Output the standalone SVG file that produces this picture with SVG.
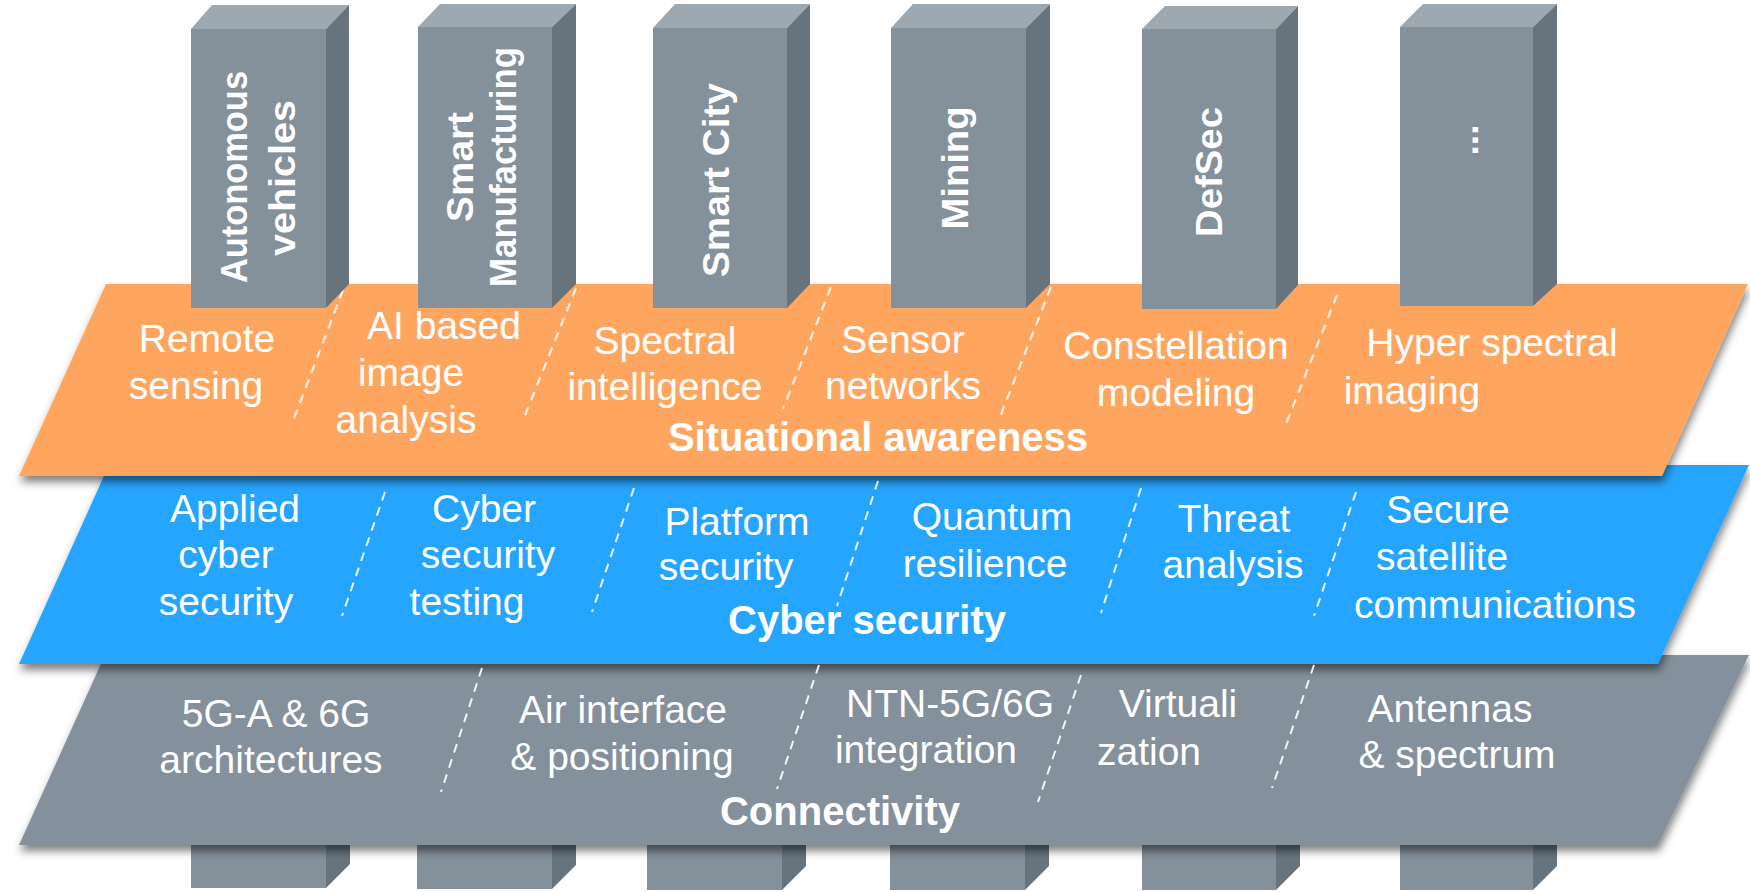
<svg xmlns="http://www.w3.org/2000/svg" width="1750" height="892" viewBox="0 0 1750 892">
<defs>
<filter id="shadow" x="-5%" y="-10%" width="110%" height="130%">
<feDropShadow dx="1" dy="6" stdDeviation="4" flood-color="#000" flood-opacity="0.5"/>
</filter>
</defs>
<style>
.front{fill:#84909A}
.side{fill:#67747E}
.top{fill:#9DA8B0}
.item{font-family:"Liberation Sans",Arial,sans-serif;font-size:39px;fill:#fff;text-anchor:middle}
.head{font-family:"Liberation Sans",Arial,sans-serif;font-size:40px;font-weight:bold;fill:#fff;text-anchor:middle}
.pl{font-family:"Liberation Sans",Arial,sans-serif;font-size:37px;font-weight:bold;fill:#fff;text-anchor:middle}
.dash{stroke:#fff;stroke-width:2;stroke-dasharray:9 7;fill:none;opacity:0.9}
</style>
<rect width="1750" height="892" fill="#fff"/>

<g id="pillar-bases">
<rect class="front" x="191" y="830" width="135" height="58"/><polygon class="side" points="326,830 350,830 350,864 326,888"/>
<rect class="front" x="417" y="830" width="135" height="59"/><polygon class="side" points="552,830 576,830 576,865 552,889"/>
<rect class="front" x="647" y="830" width="135" height="60"/><polygon class="side" points="782,830 806,830 806,866 782,890"/>
<rect class="front" x="890" y="830" width="135" height="60"/><polygon class="side" points="1025,830 1049,830 1049,866 1025,890"/>
<rect class="front" x="1142" y="830" width="134" height="60"/><polygon class="side" points="1276,830 1300,830 1300,866 1276,890"/>
<rect class="front" x="1400" y="830" width="133" height="60"/><polygon class="side" points="1533,830 1557,830 1557,866 1533,890"/>
</g>

<g id="band-connectivity">
<polygon points="105,655 1749,655 1658,845 19,845" fill="#84909B" filter="url(#shadow)"/>
<text class="item" x="276" y="727">5G-A &amp; 6G</text>
<text class="item" x="271" y="773">architectures</text>
<text class="item" x="623" y="723">Air interface</text>
<text class="item" x="622" y="770">&amp; positioning</text>
<text class="item" x="950" y="717">NTN-5G/6G</text>
<text class="item" x="926" y="763">integration</text>
<text class="item" x="1178" y="717">Virtuali</text>
<text class="item" x="1149" y="765">zation</text>
<text class="item" x="1450" y="722">Antennas</text>
<text class="item" x="1457" y="768">&amp; spectrum</text>
<text class="head" x="840" y="825">Connectivity</text>
</g>

<g id="band-cyber">
<polygon points="109,465 1749,465 1658,664 19,664" fill="#26A5FE" filter="url(#shadow)"/>
<text class="item" x="235" y="522">Applied</text>
<text class="item" x="226" y="568">cyber</text>
<text class="item" x="226" y="615">security</text>
<text class="item" x="484" y="522">Cyber</text>
<text class="item" x="488" y="568">security</text>
<text class="item" x="467" y="615">testing</text>
<text class="item" x="737" y="535">Platform</text>
<text class="item" x="726" y="580">security</text>
<text class="item" x="992" y="530">Quantum</text>
<text class="item" x="985" y="577">resilience</text>
<text class="item" x="1234" y="532">Threat</text>
<text class="item" x="1233" y="578">analysis</text>
<text class="item" x="1448" y="523">Secure</text>
<text class="item" x="1442" y="570">satellite</text>
<text class="item" x="1495" y="618">communications</text>
<text class="head" x="867" y="634">Cyber security</text>
</g>

<g id="band-situational">
<polygon points="106,284 1748,284 1662,476 19,476" fill="#FEA65E" filter="url(#shadow)"/>
<text class="item" x="207" y="352">Remote</text>
<text class="item" x="196" y="399">sensing</text>
<text class="item" x="444" y="339">AI based</text>
<text class="item" x="411" y="386">image</text>
<text class="item" x="406" y="433">analysis</text>
<text class="item" x="665" y="354">Spectral</text>
<text class="item" x="665" y="400">intelligence</text>
<text class="item" x="903" y="353">Sensor</text>
<text class="item" x="903" y="399">networks</text>
<text class="item" x="1176" y="359">Constellation</text>
<text class="item" x="1176" y="406">modeling</text>
<text class="item" x="1492" y="356">Hyper spectral</text>
<text class="item" x="1412" y="404">imaging</text>
<text class="head" x="878" y="451">Situational awareness</text>
</g>

<g id="separators">
<line class="dash" x1="343" y1="290" x2="293" y2="421"/>
<line class="dash" x1="576" y1="288" x2="524" y2="418"/>
<line class="dash" x1="831" y1="287" x2="783" y2="409"/>
<line class="dash" x1="1051" y1="287" x2="1000" y2="417"/>
<line class="dash" x1="1337" y1="295" x2="1286" y2="424"/>
<line class="dash" x1="385" y1="492" x2="342" y2="616"/>
<line class="dash" x1="634" y1="488" x2="592" y2="612"/>
<line class="dash" x1="878" y1="481" x2="837" y2="606"/>
<line class="dash" x1="1141" y1="488" x2="1101" y2="613"/>
<line class="dash" x1="1356" y1="492" x2="1314" y2="616"/>
<line class="dash" x1="482" y1="668" x2="441" y2="792"/>
<line class="dash" x1="819" y1="665" x2="777" y2="789"/>
<line class="dash" x1="1081" y1="675" x2="1038" y2="802"/>
<line class="dash" x1="1314" y1="665" x2="1272" y2="788"/>
</g>

<g id="pillar-1">
<polygon class="top" points="191,29 212,5 349,5 326,29"/>
<polygon class="side" points="326,29 349,5 349,284 326,308"/>
<rect class="front" x="191" y="29" width="135" height="279"/>
<text class="pl" transform="translate(247,177) rotate(-90)" textLength="212" lengthAdjust="spacingAndGlyphs">Autonomous</text>
<text class="pl" transform="translate(295,178) rotate(-90)" textLength="156" lengthAdjust="spacingAndGlyphs">vehicles</text>
</g>
<g id="pillar-2">
<polygon class="top" points="418,27 440,4 576,4 552,27"/>
<polygon class="side" points="552,27 576,4 576,284 552,308"/>
<rect class="front" x="418" y="27" width="134" height="281"/>
<text class="pl" transform="translate(473,167) rotate(-90)" textLength="110" lengthAdjust="spacingAndGlyphs">Smart</text>
<text class="pl" transform="translate(516,167) rotate(-90)" textLength="240" lengthAdjust="spacingAndGlyphs">Manufacturing</text>
</g>
<g id="pillar-3">
<polygon class="top" points="653,28 675,4 810,4 787,28"/>
<polygon class="side" points="787,28 810,4 810,284 787,308"/>
<rect class="front" x="653" y="28" width="134" height="280"/>
<text class="pl" transform="translate(729,180) rotate(-90)" textLength="194" lengthAdjust="spacingAndGlyphs">Smart City</text>
</g>
<g id="pillar-4">
<polygon class="top" points="891,28 913,4 1050,4 1026,28"/>
<polygon class="side" points="1026,28 1050,4 1050,284 1026,308"/>
<rect class="front" x="891" y="28" width="135" height="280"/>
<text class="pl" transform="translate(968,168) rotate(-90)" textLength="123" lengthAdjust="spacingAndGlyphs">Mining</text>
</g>
<g id="pillar-5">
<polygon class="top" points="1142,29 1165,6 1298,6 1276,29"/>
<polygon class="side" points="1276,29 1298,6 1298,285 1276,309"/>
<rect class="front" x="1142" y="29" width="134" height="280"/>
<text class="pl" transform="translate(1222,172) rotate(-90)" textLength="130" lengthAdjust="spacingAndGlyphs">DefSec</text>
</g>
<g id="pillar-6">
<polygon class="top" points="1400,27 1423,4 1557,4 1533,27"/>
<polygon class="side" points="1533,27 1557,4 1557,284 1533,306"/>
<rect class="front" x="1400" y="27" width="133" height="279"/>
<text class="pl" transform="translate(1478,140) rotate(-90)">...</text>
</g>
</svg>
